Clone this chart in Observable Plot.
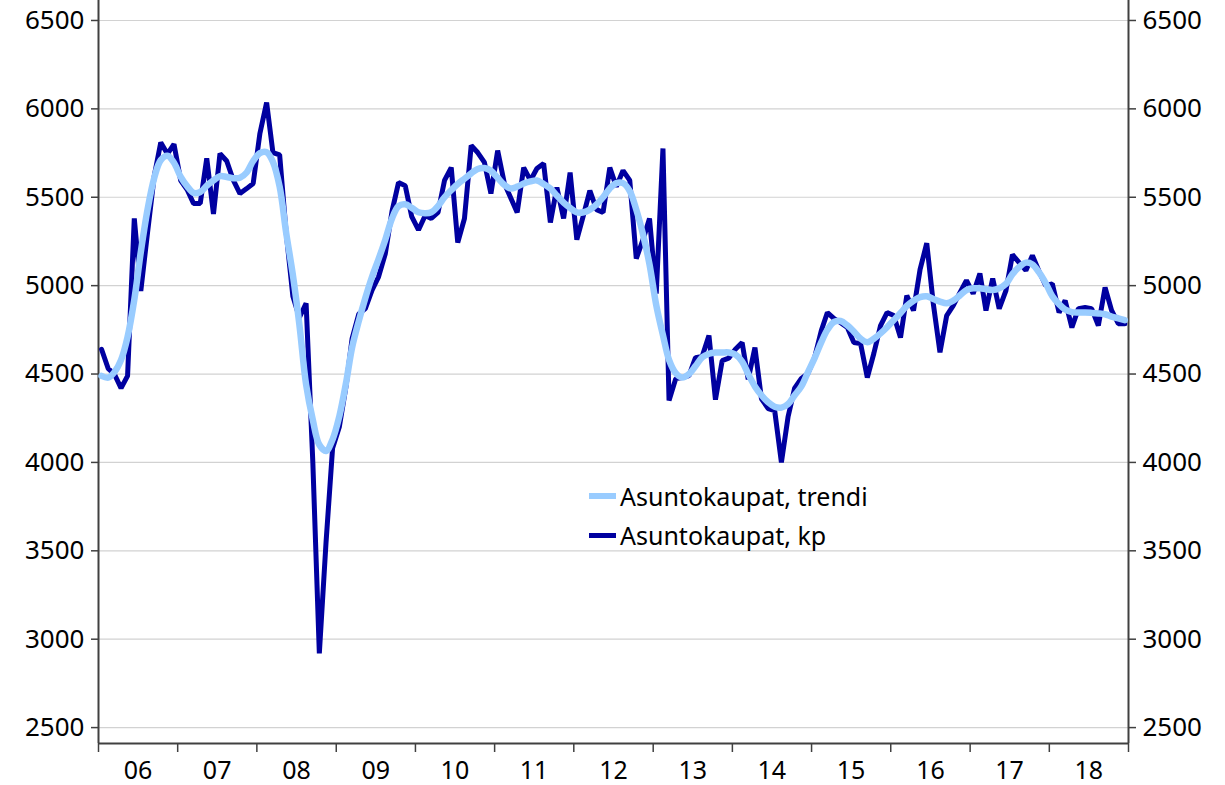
<!DOCTYPE html>
<html><head><meta charset="utf-8">
<script src="https://cdn.jsdelivr.net/npm/d3@7"></script>
<script src="https://cdn.jsdelivr.net/npm/@observablehq/plot@0.6"></script>
<style>
body{margin:0;background:#fff;}
#wrap{position:relative;width:1225px;height:785px;font-family:"Noto Sans",sans-serif;overflow:hidden;}
.leg{position:absolute;left:589px;font-size:25px;color:#000;display:flex;align-items:center;white-space:nowrap;}
.sw{display:inline-block;width:27px;margin-right:4px;}
</style></head><body><div id="wrap"></div>
<script>
// Monthly data, Jan 2006 – Dec 2018
const startYear = 2006;
const kp = [
4640,4530,4500,4420,4490,5380,4970,5300,5620,5810,5745,5800,
5595,5540,5465,5465,5720,5405,5747,5705,5595,5521,5549,5578,
5861,6036,5753,5740,5300,4940,4820,4900,4000,2920,3550,4080,
4200,4430,4700,4840,4870,4975,5050,5180,5420,5583,5565,5390,
5315,5397,5380,5414,5595,5668,5244,5380,5793,5753,5697,5521,
5764,5578,5500,5414,5668,5595,5663,5691,5357,5555,5380,5640,
5260,5400,5538,5430,5414,5668,5560,5651,5595,5153,5260,5380,
4955,5776,4350,4474,4480,4491,4593,4600,4718,4355,4576,4590,
4640,4678,4470,4650,4360,4305,4293,4000,4260,4420,4475,4503,
4593,4746,4848,4814,4790,4763,4678,4672,4480,4616,4774,4848,
4831,4706,4944,4859,5090,5240,4900,4623,4831,4887,4960,5029,
4955,5069,4859,5040,4870,4972,5175,5130,5086,5170,5080,5001,
5010,4848,4916,4763,4870,4876,4870,4774,4990,4860,4785,4785
];
const trend = [
4490,4480,4510,4580,4710,4920,5190,5430,5610,5710,5735,5695,
5615,5560,5525,5530,5565,5595,5620,5615,5608,5610,5640,5705,
5750,5755,5700,5560,5300,5060,4780,4440,4240,4100,4065,4130,
4260,4450,4650,4800,4930,5050,5150,5260,5380,5450,5460,5440,
5415,5410,5415,5450,5500,5540,5575,5605,5635,5660,5665,5650,
5610,5570,5550,5560,5578,5590,5595,5575,5549,5510,5470,5440,
5414,5415,5430,5460,5500,5550,5580,5580,5535,5430,5290,5120,
4890,4720,4580,4505,4480,4500,4545,4595,4615,4622,4622,4622,
4610,4570,4500,4430,4380,4340,4315,4310,4330,4380,4430,4510,
4590,4680,4750,4795,4800,4775,4740,4700,4680,4700,4730,4765,
4805,4845,4885,4915,4935,4940,4925,4910,4900,4915,4945,4975,
4985,4985,4980,4975,4985,5010,5065,5105,5130,5120,5075,5015,
4940,4895,4865,4850,4848,4848,4846,4843,4838,4825,4815,4805
];
const yTicks = [2500,3000,3500,4000,4500,5000,5500,6000,6500];
const yearLabels = ["06","07","08","09","10","11","12","13","14","15","16","17","18"];
const seriesNames = ["Asuntokaupat, trendi","Asuntokaupat, kp"];
const colTrend = "#99CCFF", colKp = "#0000A0";

const rows = kp.map((v,i)=>({date:new Date(Date.UTC(startYear,i,15)), kp:v, trend:trend[i]}));
const yearStarts = d3.range(startYear, startYear+yearLabels.length+1).map(y=>new Date(Date.UTC(y,0,1)));
const yearMids = yearLabels.map((l,i)=>({date:new Date(Date.UTC(startYear+i,6,2)), label:l}));
const x0 = yearStarts[0], x1 = yearStarts[yearStarts.length-1];
const yMin = 2410, yMax = 6613;

const chart = Plot.plot({
  width:1225, height:785,
  marginLeft:98, marginRight:97, marginTop:0, marginBottom:42,
  style:{fontFamily:"Noto Sans, sans-serif", fontSize:"26px", color:"#000", background:"#fff", overflow:"visible"},
  x:{type:"utc", domain:[x0,x1], axis:null},
  y:{domain:[yMin,yMax], axis:null},
  marks:[
    Plot.ruleY(yTicks,{stroke:"#d2d2d2", strokeWidth:1.2}),
    Plot.axisY(yTicks,{anchor:"left", tickSize:7, tickPadding:7, fontSize:26, stroke:"#404040", strokeWidth:1.5, fill:"#000", tickFormat:d=>String(d)}),
    Plot.axisY(yTicks,{anchor:"right", tickSize:7, tickPadding:7, fontSize:26, stroke:"#404040", strokeWidth:1.5, fill:"#000", tickFormat:d=>String(d)}),
    Plot.axisX(yearStarts,{anchor:"bottom", tickSize:9, tickFormat:()=>"", stroke:"#404040", strokeWidth:1.5}),
    Plot.text(yearMids,{x:"date", text:"label", frameAnchor:"bottom", dy:27, lineAnchor:"middle", fontSize:25, fill:"#000"}),
    Plot.ruleX([x0],{stroke:"#404040", strokeWidth:2}),
    Plot.ruleX([x1],{stroke:"#404040", strokeWidth:2}),
    Plot.ruleY([yMin],{stroke:"#404040", strokeWidth:2}),
    Plot.line(rows,{x:"date", y:"kp", stroke:colKp, strokeWidth:5, strokeLinejoin:"miter"}),
    Plot.line(rows,{x:"date", y:"trend", stroke:colTrend, strokeWidth:6.5, curve:"catmull-rom"})
  ]
});
const wrap = document.getElementById("wrap");
wrap.appendChild(chart);
[[seriesNames[0],colTrend,6,496],[seriesNames[1],colKp,5,535]].forEach(([name,col,w,yc])=>{
  const d = document.createElement("div");
  d.className="leg";
  d.style.top=(yc-17)+"px";
  d.style.height="34px";
  const s = document.createElement("span");
  s.className="sw"; s.style.height=w+"px"; s.style.background=col;
  d.appendChild(s);
  const t = document.createElement("span"); t.textContent=name; d.appendChild(t);
  wrap.appendChild(d);
});
</script></body></html>
